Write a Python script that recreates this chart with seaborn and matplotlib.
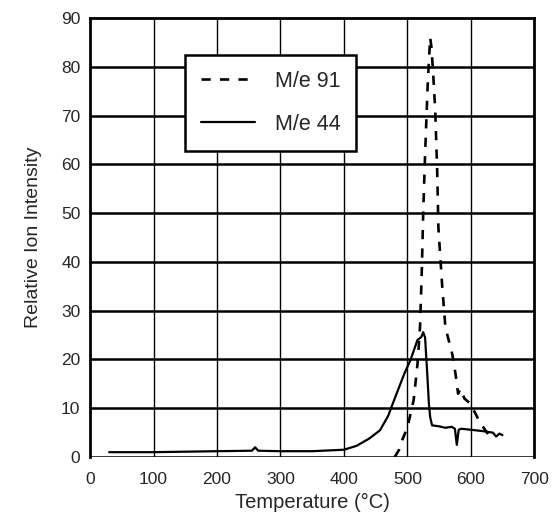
import numpy as np
import pandas as pd
import matplotlib
matplotlib.use('Agg')
import matplotlib.pyplot as plt
import seaborn as sns

# M/e 44 (solid)
temp_44 = [30, 100, 200, 255, 260, 265, 300, 350, 400, 420, 440, 457, 470, 481, 495,
           505, 516, 522, 525, 528, 531, 534, 536, 539, 550, 560, 570, 575, 578, 581,
           585, 600, 620, 635, 640, 645, 650]
int_44 = [1.0, 1.0, 1.2, 1.3, 2.0, 1.3, 1.2, 1.2, 1.5, 2.3, 3.8, 5.5, 8.5, 12.3, 17.0,
          19.9, 24.0, 24.6, 25.6, 24.5, 18.0, 11.0, 8.2, 6.5, 6.3, 6.0, 6.2, 5.8, 2.5, 5.6,
          5.8, 5.6, 5.3, 5.0, 4.2, 4.8, 4.5]

# M/e 91 (dashed)
temp_91 = [480, 487, 492, 500, 510, 516, 520, 523, 525, 528, 532, 536, 538, 541, 544,
           547, 549, 555, 560, 571, 576, 580, 584, 590, 599, 615, 631]
int_91 = [0.0, 1.5, 3.5, 6.0, 11.7, 19.0, 26.6, 39.0, 50.0, 62.0, 76.0, 86.0, 84.0, 78.0, 71.0,
          59.0, 47.0, 35.0, 26.6, 21.0, 17.0, 13.0, 14.0, 12.0, 11.0, 7.0, 4.0]

sns.set_style('white')
plt.rcParams['font.family'] = ['Liberation Sans', 'DejaVu Sans']

fig = plt.figure(figsize=(5.53, 5.29), dpi=100)
ax = fig.add_axes([0.163, 0.136, 0.803, 0.830])

df44 = pd.DataFrame({'T': temp_44, 'I': int_44})
df91 = pd.DataFrame({'T': temp_91, 'I': int_91})

# grid
for y in range(10, 90, 10):
    ax.axhline(y, color='black', lw=1.8, zorder=1)
ax.axhline(0, color='black', lw=1.8, zorder=1)
for x in range(100, 700, 100):
    ax.axvline(x, color='black', lw=1.0, zorder=1)

sns.lineplot(data=df91, x='T', y='I', ax=ax, color='black', lw=1.9,
             linestyle=(0, (3.5, 3.5)), label='M/e 91', zorder=3)
sns.lineplot(data=df44, x='T', y='I', ax=ax, color='black', lw=1.6,
             label='M/e 44', zorder=3)

ax.set_xlim(0, 700)
ax.set_ylim(0, 90)
ax.set_xticks(range(0, 701, 100))
ax.set_yticks(range(0, 91, 10))
ax.set_yticks(np.arange(0, 91, 2), minor=True)
ax.tick_params(axis='y', which='major', direction='out', length=5, width=1.5, labelsize=12.5, pad=2)
ax.tick_params(axis='y', which='minor', direction='out', length=2.5, width=1.0)
ax.tick_params(axis='x', which='major', direction='out', length=6, width=1.0, labelsize=12.5, pad=5)

for side in ['left', 'top', 'right']:
    ax.spines[side].set_linewidth(2.0)
    ax.spines[side].set_color('black')
ax.spines['bottom'].set_visible(False)

ax.set_xlabel('Temperature (°C)', fontsize=14.5, labelpad=4)
ax.set_ylabel('Relative Ion Intensity', fontsize=14, labelpad=14)

leg = ax.legend(loc='upper left', bbox_to_anchor=(0.214, 0.916), fontsize=15.5,
                frameon=True, fancybox=False, edgecolor='black', framealpha=1,
                handlelength=2.5, borderpad=0.75, labelspacing=1.0, handletextpad=0.9,
                borderaxespad=0)
leg.get_frame().set_linewidth(1.8)

fig.savefig('out.png', dpi=100)
